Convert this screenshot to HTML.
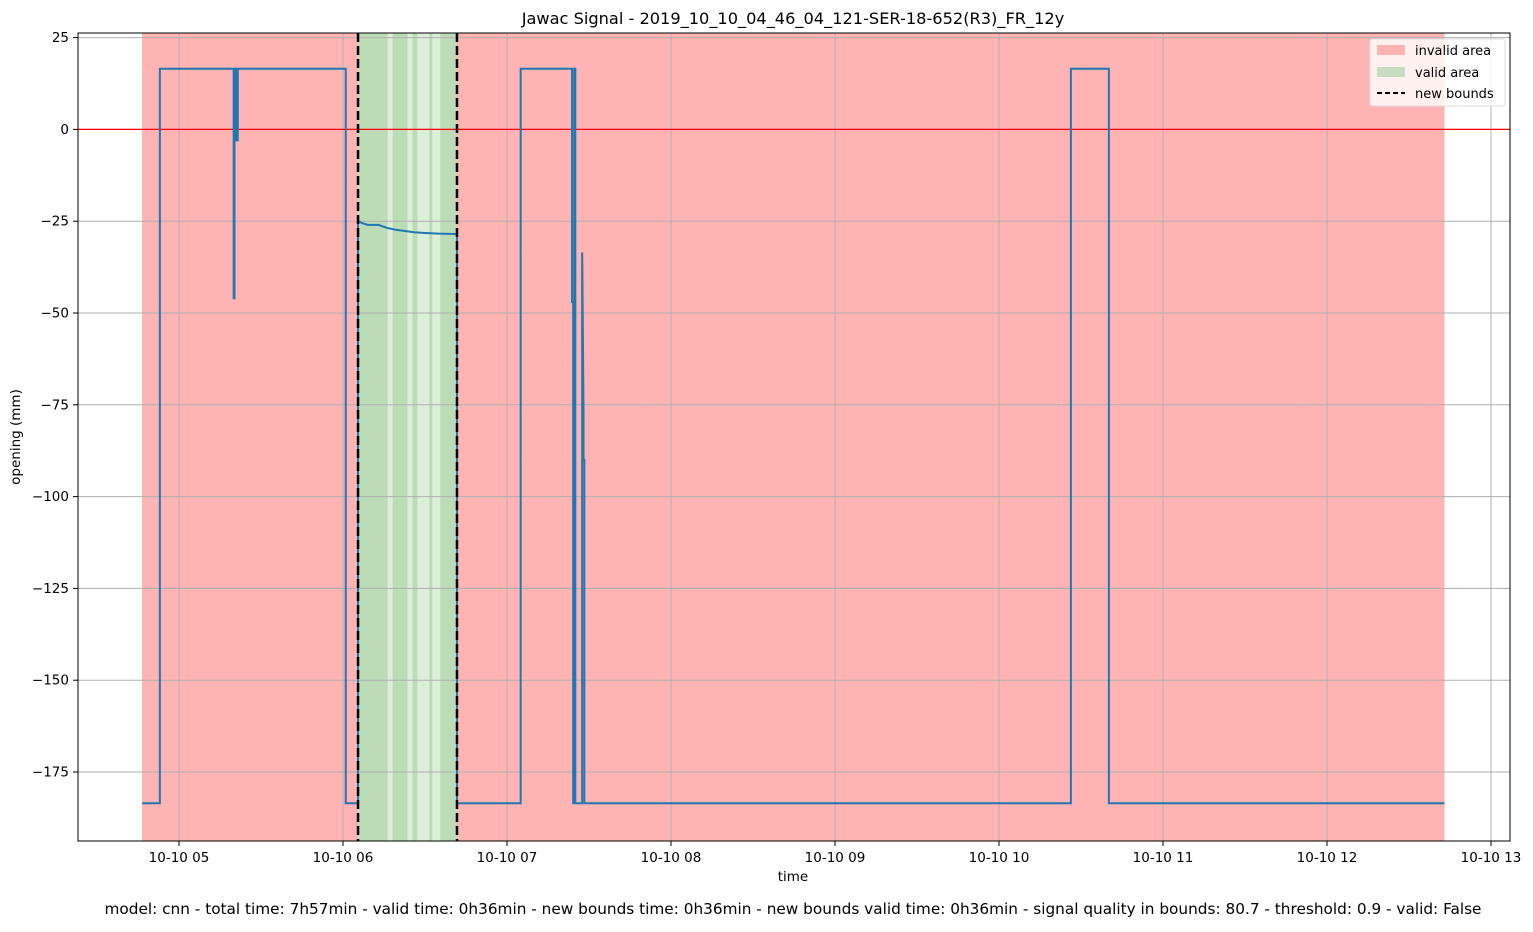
<!DOCTYPE html>
<html><head><meta charset="utf-8"><style>
body{margin:0;background:#fff;}
svg text{font-family:"DejaVu Sans","Liberation Sans",sans-serif;}
</style></head><body>
<svg id="chart" width="1533" height="927" xmlns="http://www.w3.org/2000/svg">
<text x="793" y="24" font-size="16.2" text-anchor="middle">Jawac Signal - 2019_10_10_04_46_04_121-SER-18-652(R3)_FR_12y</text>
<g id="shade"></g>
<g id="grid"></g>
<line x1="78" x2="1510" y1="129.4" y2="129.4" stroke="#f00" stroke-width="1.2"/>
<g id="series"></g>
<g id="bounds"></g>
<rect x="78" y="33" width="1432" height="808" fill="none" stroke="#000" stroke-width="1"/>
<g id="axes"></g>
<text x="793" y="881" font-size="13.5" text-anchor="middle">time</text>
<text x="20" y="437" font-size="13.5" text-anchor="middle" transform="rotate(-90 20 437)">opening (mm)</text>
<text x="793" y="914" font-size="15.3" text-anchor="middle">model: cnn - total time: 7h57min - valid time: 0h36min - new bounds time: 0h36min - new bounds valid time: 0h36min - signal quality in bounds: 80.7 - threshold: 0.9 - valid: False</text>
<g>
<rect x="1370" y="39" width="135" height="67" rx="3" fill="#fff" fill-opacity="0.8" stroke="#ddd"/>
<rect x="1377" y="45" width="28" height="10" fill="#ffb3b3"/>
<text x="1415" y="55" font-size="13">invalid area</text>
<rect x="1377" y="67" width="28" height="10" fill="#c8dcc0"/>
<text x="1415" y="77" font-size="13">valid area</text>
<line x1="1377" x2="1405" y1="93" y2="93" stroke="#000" stroke-width="2" stroke-dasharray="5,3"/>
<text x="1415" y="98" font-size="13">new bounds</text>
</g>
</svg>
<script>
// minutes since 04:00
const times = [46.5,53,53,80,80,80.3,80.3,81,81,81.5,81.5,121,121,125.5,125.5,127,129,133,136,139,142,146,150,155,161.7,161.7,185,185,203.8,203.8,204.2,204.2,204.6,204.6,205,205,207.5,207.5,208,208,208.3,208.3,386.3,386.3,400.2,400.2,523];
const values = [-183.5,-183.5,16.5,16.5,-46,-46,16.5,16.5,-3,-3,16.5,16.5,-183.5,-183.5,-25,-25.5,-26,-26,-26.8,-27.3,-27.6,-28,-28.2,-28.4,-28.5,-183.5,-183.5,16.5,16.5,-47,-47,-183.5,-183.5,16.5,16.5,-183.5,-183.5,-33.5,-77,-90,-90,-183.5,-183.5,16.5,16.5,-183.5,-183.5];
const yTicks = [25,0,-25,-50,-75,-100,-125,-150,-175];
const xTicks = [60,120,180,240,300,360,420,480,540];
const xTickLabels = ["10-10 05","10-10 06","10-10 07","10-10 08","10-10 09","10-10 10","10-10 11","10-10 12","10-10 13"];
const invalidSpans = [[46.5,125.5],[161.7,523]];
const validSpans = [[125.5,161.7]];
const boundsTimes = [125.5,161.7];

const X = m => 179 + (m - 60) * 164 / 60;
const Y = v => 129.4 - v * 3.672;
const NS = "http://www.w3.org/2000/svg";
function mk(tag, attrs, parent){const e=document.createElementNS(NS,tag);for(const k in attrs)e.setAttribute(k,attrs[k]);parent.appendChild(e);return e;}
const shade=document.getElementById('shade'),grid=document.getElementById('grid'),axes=document.getElementById('axes'),series=document.getElementById('series'),bounds=document.getElementById('bounds');
invalidSpans.forEach(s=>{const r=mk('rect',{x:X(s[0]),y:33,width:X(s[1])-X(s[0]),height:808,fill:'#ffb3b3'},shade);

});
validSpans.forEach(s=>{const r=mk('rect',{x:X(s[0]),y:33,width:X(s[1])-X(s[0]),height:808,fill:'#bcdcb8'},shade);


const w=X(s[1])-X(s[0]);
[[0.3,0.05],[0.5,0.05],[0.6,0.12],[0.75,0.08]].forEach(f=>mk('rect',{x:X(s[0])+w*f[0],y:33,width:w*f[1],height:808,fill:'#dcefd8'},shade));});
yTicks.forEach(v=>{const y=Y(v);
mk('line',{x1:78,x2:1510,y1:y,y2:y,stroke:'#b0b0b0','stroke-width':1},grid);
mk('line',{x1:73,x2:78,y1:y,y2:y,stroke:'#000'},axes);
const t=mk('text',{x:69,y:y+4.5,'font-size':13.5,'text-anchor':'end'},axes);t.textContent=(v<0?'\u2212'+(-v):String(v));

});
xTicks.forEach((m,i)=>{const x=X(m);
mk('line',{x1:x,x2:x,y1:33,y2:841,stroke:'#b0b0b0','stroke-width':1},grid);
mk('line',{x1:x,x2:x,y1:841,y2:846,stroke:'#000'},axes);
const t=mk('text',{x:x,y:862,'font-size':13.5,'text-anchor':'middle'},axes);t.textContent=xTickLabels[i];

});
const p=mk('polyline',{points:times.map((m,i)=>X(m)+','+Y(values[i])).join(' '),fill:'none',stroke:'#1f77b4','stroke-width':2},series);


boundsTimes.forEach(m=>{const l=mk('line',{x1:X(m),x2:X(m),y1:33,y2:841,stroke:'#000','stroke-width':2.5,'stroke-dasharray':'9,4'},bounds);

});
</script>
</body></html>
